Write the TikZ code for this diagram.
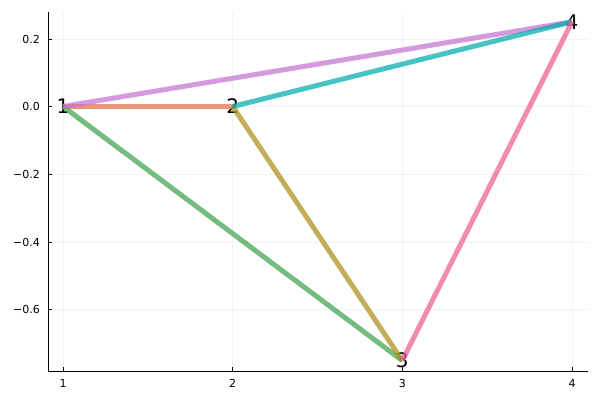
\documentclass[tikz,border=0pt]{standalone}
\usepackage{fontspec}
\setmainfont{DejaVu Sans}
\definecolor{cOr}{HTML}{E36F47}
\definecolor{cGr}{HTML}{3EA44E}
\definecolor{cPu}{HTML}{C371D2}
\definecolor{cBr}{HTML}{AC8E18}
\definecolor{cTe}{HTML}{00AAAE}
\definecolor{cPi}{HTML}{ED5E93}
\definecolor{gridc}{HTML}{F2F2F2}
\begin{document}
\begin{tikzpicture}[x=1pt,y=-1pt,
  edge/.style={line width=5pt,opacity=0.72,line cap=butt},
  gridline/.style={draw=gridc,line width=0.6pt},
  axisline/.style={draw=black,line width=0.9pt},
  ticklab/.style={font=\fontsize{11}{12}\selectfont,inner sep=0pt},
  vlab/.style={font=\fontsize{20}{21}\selectfont,inner sep=0pt}]
\useasboundingbox (0,0) rectangle (600,400);
% grid
\foreach \xx in {63,232.7,402.3,572} \draw[gridline] (\xx,12) -- (\xx,371);
\foreach \yy in {39,106.5,174.2,242,309.7} \draw[gridline] (48,\yy) -- (588,\yy);
% axes
\draw[axisline] (48,12) -- (48,371) -- (588,371);
\foreach \xx in {63,232.7,402.3,572} \draw[black,line width=0.6pt] (\xx,371) -- (\xx,367);
\foreach \yy in {39,106.5,174.2,242,309.7} \draw[black,line width=0.6pt] (48,\yy) -- (52,\yy);
% tick labels
\node[ticklab] (xt1) at (63,383) {1};
\node[ticklab] (xt2) at (232.7,383) {2};
\node[ticklab] (xt3) at (402.3,383) {3};
\node[ticklab] (xt4) at (572,383) {4};
\node[ticklab,anchor=east] (yt1) at (40,39) {0.2};
\node[ticklab,anchor=east] (yt2) at (40,106.5) {0.0};
\node[ticklab,anchor=east] (yt3) at (40,174.2) {−0.2};
\node[ticklab,anchor=east] (yt4) at (40,242) {−0.4};
\node[ticklab,anchor=east] (yt5) at (40,309.7) {−0.6};
% vertices
\coordinate (n1) at (63,106.5);
\coordinate (n2) at (232.7,106.5);
\coordinate (n3) at (402.3,360.6);
\coordinate (n4) at (572,21.8);
\node[vlab] (l1) at (n1) {1};
\node[vlab] (l2) at (n2) {2};
\node[vlab] (l3) at (n3) {3};
\node[vlab] (l4) at (n4) {4};
% edges
\draw[edge,cOr] (n1) -- (n2);
\draw[edge,cGr] (n1) -- (n3);
\draw[edge,cPu] (n1) -- (n4);
\draw[edge,cBr] (n2) -- (n3);
\draw[edge,cTe] (n2) -- (n4);
\draw[edge,cPi] (n3) -- (n4);
\end{tikzpicture}
\end{document}
